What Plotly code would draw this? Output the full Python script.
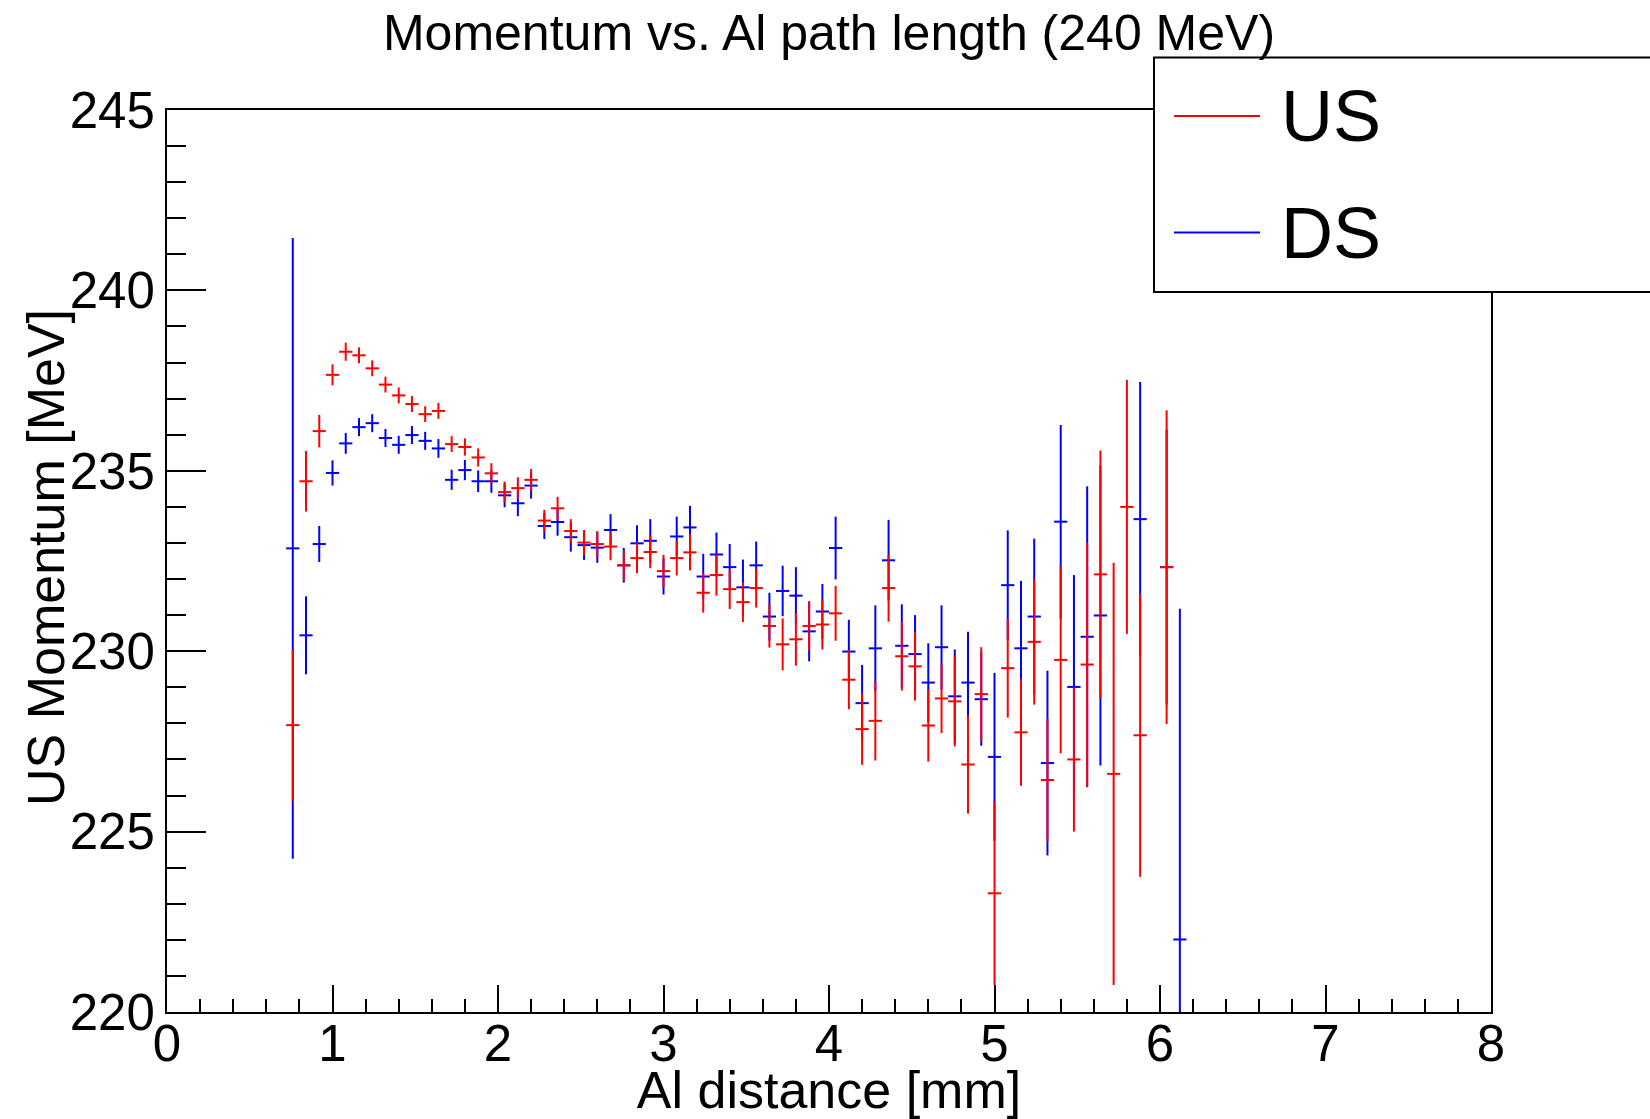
import plotly.graph_objects as go

# Bin centres of the Al path length histogram [mm] (bin width 0.08 mm)
bin_centers = [0.76, 0.84, 0.92, 1.00, 1.08, 1.16, 1.24, 1.32, 1.40, 1.48,
               1.56, 1.64, 1.72, 1.80, 1.88, 1.96, 2.04, 2.12, 2.20, 2.28,
               2.36, 2.44, 2.52, 2.60, 2.68, 2.76, 2.84, 2.92, 3.00, 3.08,
               3.16, 3.24, 3.32, 3.40, 3.48, 3.56, 3.64, 3.72, 3.80, 3.88,
               3.96, 4.04, 4.12, 4.20, 4.28, 4.36, 4.44, 4.52, 4.60, 4.68,
               4.76, 4.84, 4.92, 5.00, 5.08, 5.16, 5.24, 5.32, 5.40, 5.48,
               5.56, 5.64, 5.72, 5.80, 5.88, 5.96, 6.04, 6.12]
half_bin_width = 0.04

# Upstream momentum profile [MeV] and its errors (None = empty bin)
us_mean = [227.95, 234.71, 236.10, 237.66, 238.30, 238.20, 237.84, 237.39, 237.09, 236.85,
           236.57, 236.66, 235.74, 235.66, 235.37, 234.93, 234.41, 234.52, 234.75, 233.62,
           233.96, 233.33, 233.01, 232.97, 232.90, 232.38, 232.58, 232.75, 232.22, 232.58,
           232.74, 231.62, 232.11, 231.72, 231.36, 231.75, 230.70, 230.19, 230.33, 230.70,
           230.74, 231.05, 229.21, 227.84, 228.07, 231.75, 229.86, 229.58, 227.94, 228.69,
           228.61, 226.86, 228.81, 223.29, 229.53, 227.75, 230.26, 226.43, 229.76, 227.00,
           229.63, 232.13, 226.60, 234.00, 227.67, None, 232.33, None]
us_err = [2.10, 0.84, 0.45, 0.29, 0.25, 0.22, 0.22, 0.22, 0.22, 0.22,
          0.22, 0.22, 0.22, 0.24, 0.25, 0.28, 0.29, 0.30, 0.30, 0.30,
          0.32, 0.33, 0.35, 0.36, 0.38, 0.42, 0.42, 0.45, 0.45, 0.48,
          0.50, 0.55, 0.57, 0.55, 0.55, 0.54, 0.60, 0.72, 0.73, 0.68,
          0.69, 0.76, 0.82, 0.99, 1.10, 0.93, 0.95, 0.95, 1.00, 0.96,
          1.25, 1.36, 1.30, 2.54, 1.37, 1.48, 1.74, 1.70, 2.59, 2.00,
          3.38, 3.43, 5.85, 3.52, 3.92, None, 4.35, None]

# Downstream momentum profile [MeV] and its errors (None = empty bin)
ds_mean = [232.85, 230.44, 232.97, 234.94, 235.76, 236.21, 236.32, 235.91, 235.72, 235.99,
           235.83, 235.62, 234.75, 235.02, 234.71, 234.71, 234.32, 234.10, 234.59, 233.47,
           233.58, 233.16, 232.94, 232.87, 233.36, 232.38, 232.99, 233.06, 232.07, 233.18,
           233.43, 232.07, 232.68, 232.33, 231.77, 232.38, 230.96, 231.67, 231.54, 230.55,
           231.10, 232.86, 229.99, 228.56, 230.08, 232.52, 230.15, 229.92, 229.13, 230.11,
           228.75, 229.13, 228.67, 227.07, 231.83, 230.08, 230.96, 226.90, 233.59, 229.01,
           230.40, 230.99, None, None, 233.66, None, 232.33, 222.01]
ds_err = [8.60, 1.08, 0.50, 0.35, 0.29, 0.25, 0.25, 0.25, 0.25, 0.25,
          0.25, 0.26, 0.28, 0.28, 0.30, 0.32, 0.33, 0.36, 0.36, 0.36,
          0.38, 0.40, 0.41, 0.42, 0.44, 0.48, 0.50, 0.60, 0.50, 0.55,
          0.60, 0.63, 0.61, 0.64, 0.77, 0.66, 0.66, 0.70, 0.79, 0.83,
          0.76, 0.87, 0.88, 1.06, 1.19, 1.12, 1.15, 1.08, 1.09, 1.16,
          1.30, 1.41, 1.29, 2.33, 1.52, 1.87, 2.16, 2.56, 2.68, 3.10,
          4.17, 4.16, None, None, 3.80, None, 3.81, 9.17]

x_tick_vals = [0, 1, 2, 3, 4, 5, 6, 7, 8]
y_tick_vals = [220, 225, 230, 235, 240, 245]

FONT = "Liberation Sans, Arial, Helvetica, sans-serif"


def filled(xs, ys, es):
    keep = [i for i, v in enumerate(ys) if v is not None]
    return [xs[i] for i in keep], [ys[i] for i in keep], [es[i] for i in keep]


def profile_trace(ys, es, color, name):
    xs, yv, ev = filled(bin_centers, ys, es)
    return go.Scatter(
        x=xs, y=yv, name=name, mode="markers",
        marker=dict(size=0, opacity=0, color=color),
        error_y=dict(type="data", array=ev, visible=True,
                     color=color, thickness=2, width=0),
        error_x=dict(type="constant", value=half_bin_width, visible=True,
                     color=color, thickness=2, width=0),
        showlegend=False, hoverinfo="x+y",
    )


fig = go.Figure()
fig.add_trace(profile_trace(ds_mean, ds_err, "#0000ff", "DS"))
fig.add_trace(profile_trace(us_mean, us_err, "#ff0000", "US"))

axis_common = dict(
    showgrid=False, zeroline=False, automargin=False,
    showline=True, linecolor="black", linewidth=2, mirror=True,
    ticks="inside", tickcolor="black", tickwidth=2,
    tickfont=dict(family=FONT, size=51, color="black"),
)

fig.update_xaxes(
    range=[0, 8], tickmode="array", tickvals=x_tick_vals,
    ticklen=27, ticklabelstandoff=-14,
    minor=dict(ticks="inside", dtick=0.2, ticklen=13, tickwidth=2, tickcolor="black"),
    title=dict(text="Al distance [mm]", font=dict(family=FONT, size=52, color="black"),
               standoff=0),
    **axis_common,
)
fig.update_yaxes(
    range=[220, 245], tickmode="array", tickvals=y_tick_vals,
    ticklen=39, ticklabelstandoff=0,
    minor=dict(ticks="inside", dtick=1, ticklen=19, tickwidth=2, tickcolor="black"),
    **axis_common,
)

W, H = 1650, 1119
ML, MR, MT, MB = 167, 159, 110, 107
PW, PH = W - ML - MR, H - MT - MB


def px_x(p):
    return (p - ML) / PW


def px_y(p):
    return (H - MB - p) / PH


annotations = [
    # y-axis title, placed close to the tick labels
    dict(text="US Momentum [MeV]", textangle=-90, xref="paper", yref="paper",
         x=px_x(46), y=px_y(558), xanchor="center", yanchor="middle",
         showarrow=False, font=dict(family=FONT, size=52, color="black")),
]

# Legend box (US / DS) drawn on top of the frame, running off the right edge
shapes = [
    dict(type="rect", xref="paper", yref="paper",
         x0=px_x(1154), x1=px_x(1670), y0=px_y(292), y1=px_y(57.5),
         line=dict(color="black", width=2), fillcolor="white", layer="above"),
]
for label, color, ypix in [("US", "#ff0000", 116), ("DS", "#0000ff", 232.5)]:
    shapes.append(dict(type="line", xref="paper", yref="paper",
                       x0=px_x(1174), x1=px_x(1260), y0=px_y(ypix), y1=px_y(ypix),
                       line=dict(color=color, width=2), layer="above"))
    annotations.append(dict(text=label, xref="paper", yref="paper",
                            x=px_x(1279), y=px_y(ypix), xanchor="left", yanchor="middle",
                            showarrow=False,
                            font=dict(family=FONT, size=72, color="black")))

fig.update_layout(
    width=W, height=H,
    margin=dict(l=ML, r=MR, t=MT, b=MB, pad=0, autoexpand=False),
    paper_bgcolor="white", plot_bgcolor="white",
    title=dict(text="Momentum vs. Al path length (240 MeV)",
               font=dict(family=FONT, size=50, color="black"),
               x=0.5, xref="paper", xanchor="center",
               y=1 - 32 / H, yref="container", yanchor="middle",
               automargin=False),
    shapes=shapes, annotations=annotations,
    showlegend=False,
)

fig.write_html("out.html")
